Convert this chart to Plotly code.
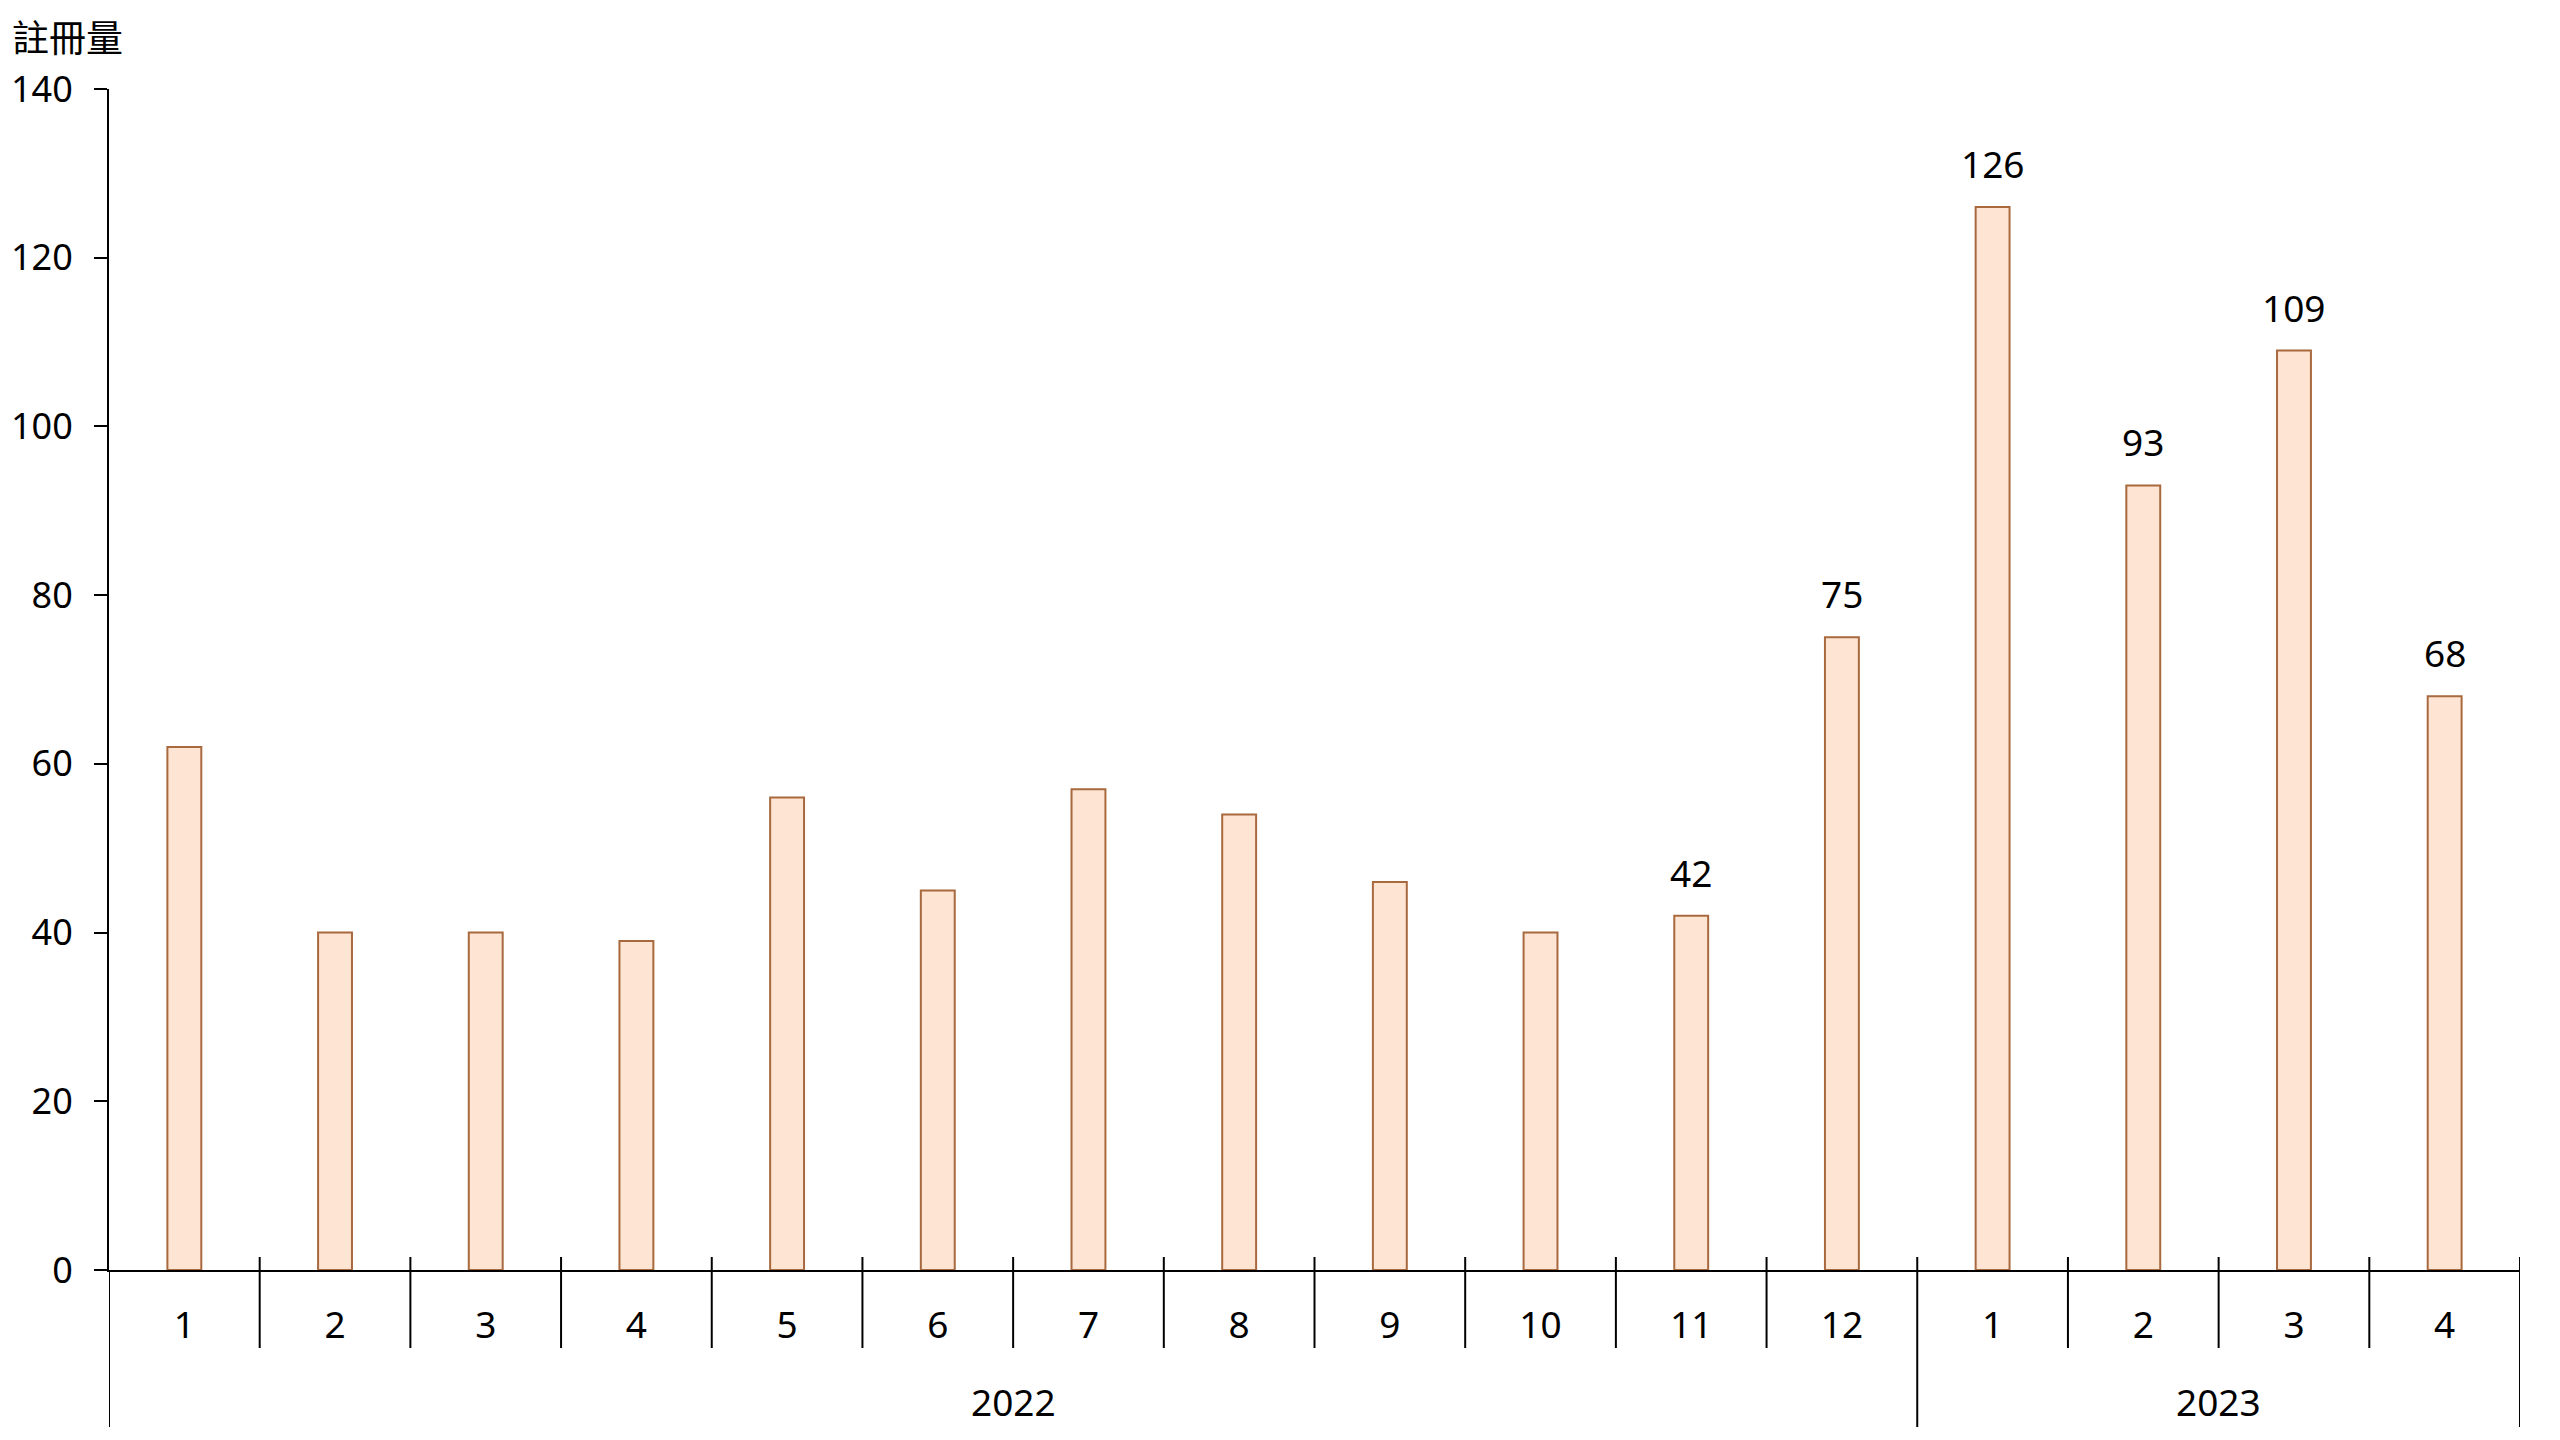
import plotly.graph_objects as go

months = ["1", "2", "3", "4", "5", "6", "7", "8", "9", "10", "11", "12", "1", "2", "3", "4"]
years = ["2022"] * 12 + ["2023"] * 4
values = [62, 40, 40, 39, 56, 45, 57, 54, 46, 40, 42, 75, 126, 93, 109, 68]
labeled_from = 10  # data labels shown from Nov 2022 onward
year_names = ["2022", "2023"]
y_ticks = [0, 20, 40, 60, 80, 100, 120, 140]

FONT = "Noto Sans, Noto Sans CJK TC, sans-serif"
FS = 37
W, H = 2544, 1424
ML, MR, MT, MB = 101, 32, 81, 162
PH = H - MT - MB
PW = W - ML - MR

x = list(range(len(values)))

fig = go.Figure()
fig.add_trace(go.Bar(
    x=x, y=values, width=0.225,
    marker=dict(color="#FEE4D2", line=dict(color="#A8693F", width=2)),
    hoverinfo="y",
))

# data labels
for i in range(labeled_from, len(values)):
    fig.add_annotation(x=i, y=values[i], text=str(values[i]), showarrow=False,
                       yanchor="bottom", yshift=16,
                       font=dict(family=FONT, size=FS, color="black"))

def py(px):
    return px / PH

shapes = []
# month dividers
for b in range(len(values) - 1):
    bx = b + 0.5
    if years[b] != years[b + 1]:
        continue
    shapes.append(dict(type="line", xref="x", yref="paper", x0=bx, x1=bx,
                       y0=py(-78), y1=py(13), line=dict(color="black", width=2)))
# year dividers (incl. ends)
bounds = [-0.5] + [b + 0.5 for b in range(len(values) - 1) if years[b] != years[b + 1]] + [len(values) - 0.5]
for bi, bx in enumerate(bounds):
    top = 0 if bi == 0 else 13
    shapes.append(dict(type="line", xref="x", yref="paper", x0=bx, x1=bx,
                       y0=py(-157), y1=py(top), line=dict(color="black", width=2)))
fig.update_layout(shapes=shapes)

# year labels
for yn in year_names:
    idx = [i for i, yy in enumerate(years) if yy == yn]
    cx = (idx[0] + idx[-1]) / 2
    fig.add_annotation(x=cx, y=py(-131), xref="x", yref="paper", text=yn,
                       showarrow=False, yanchor="middle",
                       font=dict(family=FONT, size=FS, color="black"))

# axis title
fig.add_annotation(x=-(ML - 2) / PW, y=1 + py(52), xref="paper", yref="paper",
                   text="註冊量", showarrow=False, xanchor="left", yanchor="middle",
                   font=dict(family=FONT, size=FS, color="black"))

fig.update_layout(
    width=W, height=H,
    margin=dict(l=ML, r=MR, t=MT, b=MB, pad=0, autoexpand=False),
    plot_bgcolor="white", paper_bgcolor="white",
    showlegend=False,
    font=dict(family=FONT, size=FS, color="black"),
    xaxis=dict(range=[-0.5, len(values) - 0.5], tickvals=x, ticktext=months,
               showline=True, linecolor="black", linewidth=2, ticks="",
               ticklabelstandoff=22, showgrid=False, zeroline=False, automargin=False,
               tickfont=dict(family=FONT, size=FS, color="black")),
    yaxis=dict(range=[0, 140], tickvals=y_ticks, showline=True, linecolor="black",
               linewidth=2, ticks="outside", ticklen=13, tickwidth=2, tickcolor="black",
               ticklabelstandoff=14, showgrid=False, zeroline=False, automargin=False,
               tickfont=dict(family=FONT, size=36, color="black")),
)

fig.write_html("out.html")
